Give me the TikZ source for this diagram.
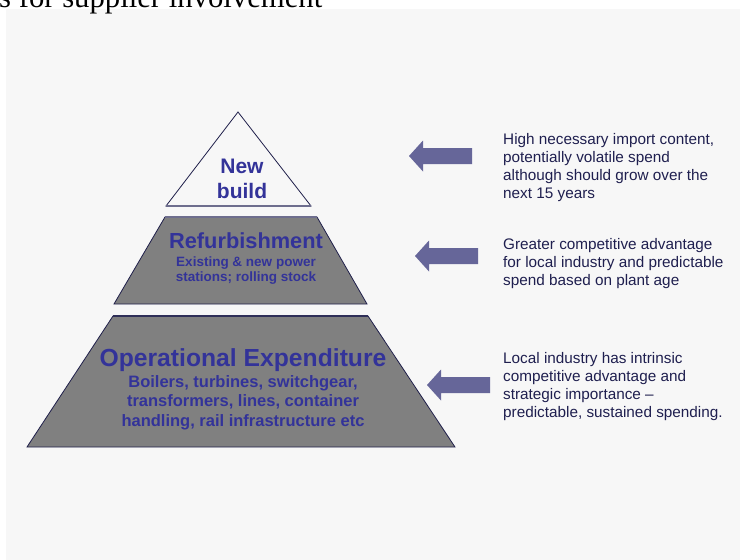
\documentclass[tikz,border=0pt]{standalone}
\usepackage{fontspec}
\setmainfont{Liberation Sans}
\newfontfamily\headfont{Liberation Serif}
\definecolor{slideBg}{HTML}{F7F7F7}
\definecolor{tierBlue}{HTML}{333399}
\definecolor{tierGrey}{HTML}{808080}
\definecolor{tierEdge}{HTML}{1F1F4A}
\definecolor{tierRim}{HTML}{6E6E8E}
\definecolor{arrowFill}{HTML}{666699}
\definecolor{noteText}{HTML}{1F1F4F}
\usepackage{tikz}
\usetikzlibrary{positioning}
% multi-line nodes sit on the baseline of their last line
\tikzset{
  tierhead/.style={anchor=base, inner sep=0pt, text=tierBlue, font=\bfseries#1},
  tiersub/.style={anchor=base, align=center, inner sep=0pt, text=tierBlue, font=\bfseries#1},
  note/.style={anchor=base west, align=left, inner sep=0pt, text=noteText, font=\fontsize{15.3}{17.8}\selectfont},
}
\newcommand{\notearrow}[3]{%
 \coordinate (#1) at (#2,#3);%
 \fill[arrowFill] (#1) -- ++(14,-15.5) -- ++(0,7.5) -- ++(49,0) -- ++(0,16) -- ++(-49,0) -- ++(0,7.5) -- cycle;}

\begin{document}
\begin{tikzpicture}[x=1pt,y=-1pt]
\useasboundingbox (0,0) rectangle (740,560);
\fill[slideBg] (6,9) rectangle (740,560);
\node[anchor=base west, inner sep=0pt, font=\headfont\fontsize{30.7}{34}\selectfont] (heading) at (-1,7) {s for supplier involvement};

% pyramid tiers
\draw[tierEdge, line width=0.8pt] (238,112) -- (311,206) -- (166,206) -- cycle;
\draw[tierRim, line width=2pt] (166,206) -- (311,206);
\filldraw[fill=tierGrey, draw=tierEdge, line width=0.8pt] (165,217) -- (317,217) -- (367,304) -- (114,304) -- cycle;
\draw[tierRim, line width=2pt] (165,217) -- (317,217);
\filldraw[fill=tierGrey, draw=tierEdge, line width=0.8pt] (113,316) -- (368,316) -- (455,447) -- (27,447) -- cycle;
\draw[tierEdge!80!tierRim, line width=1.5pt] (113,316) -- (368,316);

\node[tiersub={\fontsize{21}{25}\selectfont}] (newbuild) at (242,198) {New\\build};
\node[tierhead={\fontsize{21.8}{24}\selectfont}] (refurb) at (246,248) {Refurbishment};
\node[tiersub={\fontsize{13.5}{15}\selectfont}] (refurbsub) at (246,281) {Existing \& new power\\stations; rolling stock};
\node[tierhead={\fontsize{24.7}{28}\selectfont}] (opex) at (243,366) {Operational Expenditure};
\node[tiersub={\fontsize{16.5}{19.5}\selectfont}] (opexsub) at (243,426) {Boilers, turbines, switchgear,\\transformers, lines, container\\handling, rail infrastructure etc};

% arrows and notes
\notearrow{newarrow}{409}{156}
\notearrow{refarrow}{415}{256}
\notearrow{opexarrow}{427}{385}
\node[note] (newnote) at (503,198) {High necessary import content,\\potentially volatile spend\\although should grow over the\\next 15 years};
\node[note] (refnote) at (503,285) {Greater competitive advantage\\for local industry and predictable\\spend based on plant age};
\node[note] (opexnote) at (503,417) {Local industry has intrinsic\\competitive advantage and\\strategic importance --\\predictable, sustained spending.};
\end{tikzpicture}
\end{document}
